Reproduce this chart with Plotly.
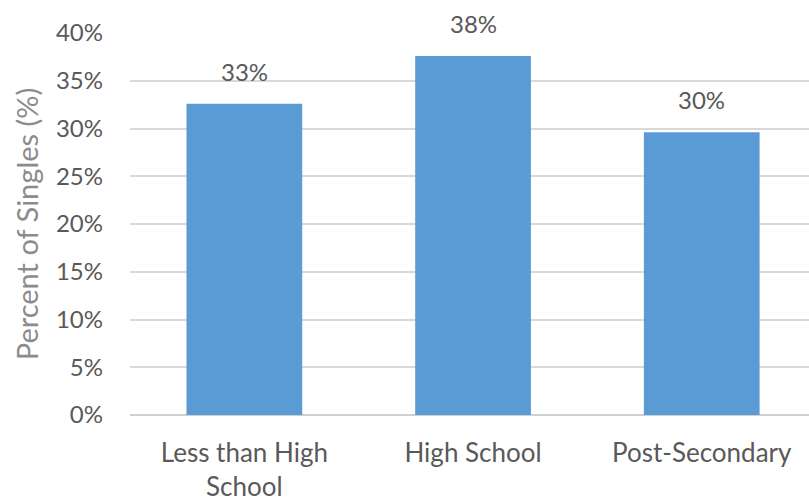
import plotly.graph_objects as go

categories = ["Less than High<br>School", "High School", "Post-Secondary"]
share_single = [0.326, 0.376, 0.296]
y_ticks = [0, 0.05, 0.10, 0.15, 0.20, 0.25, 0.30, 0.35, 0.40]

bar_color = "#5b9bd5"
text_color = "#595959"
font_family = "Lato"

fig = go.Figure()
fig.add_trace(go.Bar(
    x=categories,
    y=share_single,
    marker=dict(color=bar_color, line=dict(width=0)),
    width=0.506,
    hoverinfo="skip",
))

# value labels above each bar
for cat, val in zip(categories, share_single):
    fig.add_annotation(
        x=cat, y=val, text=f"{val:.0%}", showarrow=False,
        yanchor="bottom", yshift=16,
        font=dict(family=font_family, size=24, color=text_color),
    )

fig.update_layout(
    width=809, height=502,
    margin=dict(l=130, r=0, t=33, b=87),
    paper_bgcolor="white", plot_bgcolor="white",
    showlegend=False,
    font=dict(family=font_family, size=24, color=text_color),
    xaxis=dict(
        range=[-0.5, 2.469],
        showgrid=False, zeroline=False, showline=False,
        ticks="", ticklabelstandoff=20,
        tickfont=dict(size=26, color=text_color),
    ),
    yaxis=dict(
        range=[0, 0.40],
        tickvals=y_ticks, tickformat=".0%",
        showgrid=True, gridcolor="#d9d9d9", gridwidth=1.5,
        zeroline=True, zerolinecolor="#d0d0d0", zerolinewidth=1.5,
        showline=False, ticks="", ticklabelstandoff=26,
        tickfont=dict(size=24, color=text_color),
        title=dict(text="Percent of Singles (%)", standoff=8,
                   font=dict(size=29, color="#8c8c8c")),
    ),
)

fig.write_html("out.html")
